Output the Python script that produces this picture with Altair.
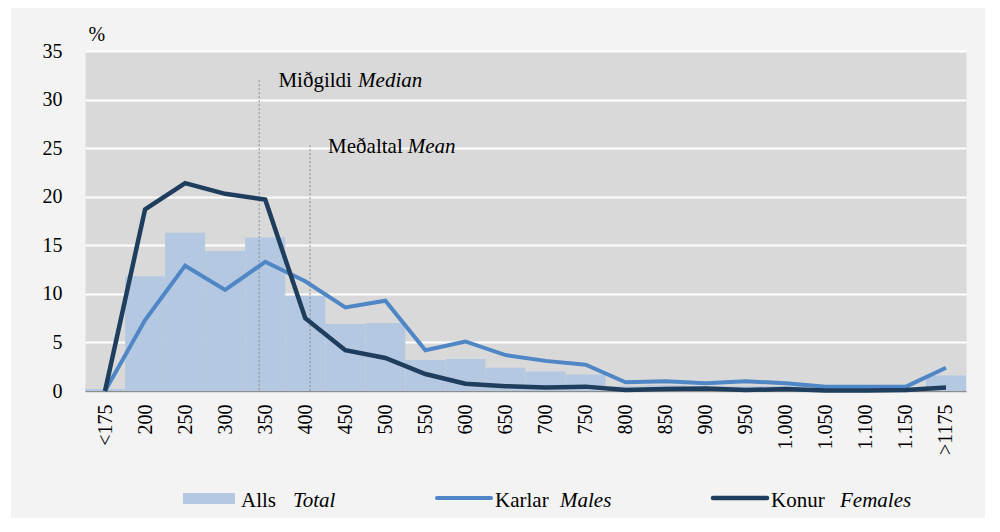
import altair as alt
import pandas as pd

# ---- data ----
labels = ["<175", "200", "250", "300", "350", "400", "450", "500", "550", "600",
          "650", "700", "750", "800", "850", "900", "950", "1.000", "1.050",
          "1.100", "1.150", ">1175"]
total = [0.2, 11.8, 16.3, 14.4, 15.8, 9.8, 6.9, 7.0, 3.2, 3.3, 2.4, 2.0, 1.7,
         0.5, 0.6, 0.5, 0.5, 0.5, 0.3, 0.3, 0.3, 1.6]
males = [0.0, 7.3, 12.9, 10.4, 13.3, 11.3, 8.6, 9.3, 4.2, 5.1, 3.7, 3.1, 2.7,
         0.9, 1.0, 0.8, 1.0, 0.8, 0.45, 0.45, 0.45, 2.4]
females = [0.0, 18.7, 21.4, 20.3, 19.7, 7.5, 4.2, 3.4, 1.75, 0.75, 0.5, 0.35,
           0.45, 0.1, 0.2, 0.25, 0.1, 0.2, 0.05, 0.05, 0.1, 0.35]

# median / mean markers (position in category-index units, top in %)
marker_pos = [3.85, 5.12]
marker_top = [32.0, 25.3]
# annotation texts
ann_text = ["Miðgildi", "Median", "Meðaltal", "Mean"]
ann_italic = [False, True, False, True]
ann_x = [4.33, 6.32, 5.57, 7.56]
ann_y = [31.3, 31.3, 24.5, 24.5]

# ---- colours ----
C_BAR = "#b5c8e1"
C_MALE = "#4e86c6"
C_FEMALE = "#1f3d5c"
FONT = "Liberation Serif"

idx = list(range(len(labels)))
df = pd.DataFrame({"i": idx, "label": labels, "total": total,
                   "males": males, "females": females})
df_markers = pd.DataFrame({"pos": marker_pos, "top": marker_top})
df_ann = pd.DataFrame({"t": ann_text, "it": ann_italic, "x": ann_x, "y": ann_y})
one = pd.DataFrame({"a": [0]})

label_js = "[" + ",".join("'" + l + "'" for l in labels) + "][datum.value]"

xscale = alt.Scale(domain=[-0.5, len(labels) - 0.5], nice=False, zero=False)
yscale = alt.Scale(domain=[0, 35], nice=False)

xaxis = alt.Axis(values=idx, labelExpr=label_js, labelAngle=270,
                 labelAlign="right", labelBaseline="middle", labelPadding=13,
                 labelFont=FONT, labelFontSize=20, labelColor="black",
                 labelOverlap=False, grid=False, ticks=False,
                 domainColor="#8c8c8c", domainWidth=1.5, title=None)
yaxis = alt.Axis(values=[0, 5, 10, 15, 20, 25, 30, 35], grid=True,
                 gridColor="white", gridWidth=2, ticks=False, domain=False,
                 labelPadding=23, labelFont=FONT, labelFontSize=20,
                 labelColor="black", title="%", titleAngle=0, titleX=3,
                 titleY=-11, titleAlign="left", titleBaseline="alphabetic",
                 titleFont=FONT, titleFontSize=20, titleFontWeight="normal",
                 titleColor="black")

base = alt.Chart(df)

bars = base.transform_calculate(lo="datum.i - 0.5", hi="datum.i + 0.5").mark_rect(
    color=C_BAR).encode(
    x=alt.X("lo:Q", scale=xscale, axis=xaxis),
    x2="hi:Q",
    y=alt.Y("total:Q", scale=yscale, axis=yaxis),
    y2=alt.datum(0),
)

rules = alt.Chart(df_markers).mark_rule(color="#8c8c8c", strokeDash=[2, 2],
                                        strokeWidth=1).encode(
    x=alt.X("pos:Q", scale=xscale),
    y=alt.Y("top:Q", scale=yscale),
    y2=alt.datum(0),
)

line_m = base.mark_line(color=C_MALE, strokeWidth=4).encode(
    x=alt.X("i:Q", scale=xscale), y=alt.Y("males:Q", scale=yscale))
line_f = base.mark_line(color=C_FEMALE, strokeWidth=4.5).encode(
    x=alt.X("i:Q", scale=xscale), y=alt.Y("females:Q", scale=yscale))


def ann_layer(italic):
    return alt.Chart(df_ann).transform_filter(
        "datum.it" if italic else "!datum.it").mark_text(
        align="left", baseline="alphabetic", font=FONT, fontSize=21,
        color="black", fontStyle="italic" if italic else "normal").encode(
        x=alt.X("x:Q", scale=xscale),
        y=alt.Y("y:Q", scale=yscale),
        text="t:N",
    )


# ---- hand-built legend below the plot ----
def ltext(txt, x, italic=False):
    return alt.Chart(one).mark_text(align="left", baseline="alphabetic",
                                    font=FONT, fontSize=21, color="black",
                                    fontStyle="italic" if italic else "normal").encode(
        x=alt.value(x), y=alt.value(456), text=alt.value(txt))


leg_rect = alt.Chart(one).mark_rect(color=C_BAR).encode(
    x=alt.value(98), x2=alt.value(150), y=alt.value(442), y2=alt.value(453))
leg_m = alt.Chart(one).mark_rule(color=C_MALE, strokeWidth=4, strokeCap="round").encode(
    x=alt.value(352), x2=alt.value(406), y=alt.value(447))
leg_f = alt.Chart(one).mark_rule(color=C_FEMALE, strokeWidth=4.5, strokeCap="round").encode(
    x=alt.value(628), x2=alt.value(682), y=alt.value(447))

# white page margins around the light panel
strip_l = alt.Chart(one).mark_rect(color="white").encode(
    x=alt.value(-78), x2=alt.value(-74), y=alt.value(-44), y2=alt.value(470))
strip_r = alt.Chart(one).mark_rect(color="white").encode(
    x=alt.value(900), x2=alt.value(908), y=alt.value(-44), y2=alt.value(470))

chart = alt.layer(
    bars, rules, line_m, line_f, ann_layer(False), ann_layer(True),
    leg_rect, ltext("Alls", 156), ltext("Total", 208, True),
    leg_m, ltext("Karlar", 410), ltext("Males", 475, True),
    leg_f, ltext("Konur", 686), ltext("Females", 755, True),
    strip_l, strip_r,
).properties(
    width=881, height=340,
    background="#f2f3f2",
    padding={"left": 77, "top": 43, "right": 26, "bottom": 127},
    autosize=alt.AutoSizeParams(type="none"),
).configure_view(fill="#d9d9d9", stroke="transparent")

chart.save("out.html", embed_options={"renderer": "svg", "actions": False})
